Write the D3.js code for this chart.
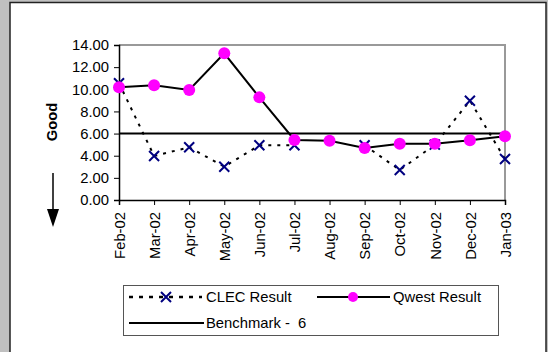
<!DOCTYPE html>
<html><head><meta charset="utf-8">
<script src="https://cdn.jsdelivr.net/npm/d3@7"></script>
<style>
html,body{margin:0;padding:0;background:#c0c0c0;}
svg{display:block;font-family:"Liberation Sans",Arial,sans-serif;}
</style></head>
<body>
<script>
const months = ["Feb-02","Mar-02","Apr-02","May-02","Jun-02","Jul-02","Aug-02","Sep-02","Oct-02","Nov-02","Dec-02","Jan-03"];
const clec = [10.55, 3.98, 4.76, 3.01, 4.94, 4.94, null, 4.94, 2.71, 5.0, 8.97, 3.70];
const qwest = [10.18, 10.36, 9.94, 13.25, 9.27, 5.42, 5.36, 4.70, 5.09, 5.09, 5.39, 5.75];
const benchmark = 6;
const yTicks = [0, 2, 4, 6, 8, 10, 12, 14];
const legendLabels = ["CLEC Result", "Qwest Result", "Benchmark -  6"];

const FS = "14.8px";
const W = 548, H = 352;
const svg = d3.select("body").append("svg").attr("width", W).attr("height", H);
svg.append("rect").attr("x", 0).attr("y", 0).attr("width", W).attr("height", H).attr("fill", "#c0c0c0");
svg.append("rect").attr("x", 10).attr("y", 2.5).attr("width", 536).attr("height", 352).attr("fill", "#fff").attr("stroke", "#222").attr("stroke-width", 1.5);

const L = 119, R = 505, T = 45, B = 200;
const x = d3.scalePoint().domain(months).range([L, R]);
const y = d3.scaleLinear().domain([0, 14]).range([B, T]);

// plot border (top/right gray)
svg.append("path").attr("d", `M${L},${T}H${R}V${B}`).attr("fill", "none").attr("stroke", "#999").attr("stroke-width", 2);

const yAxis = svg.append("g").attr("transform", `translate(${L},0)`)
  .call(d3.axisLeft(y).tickValues(yTicks).tickFormat(d3.format(".2f")).tickSize(5).tickPadding(5));
yAxis.select(".domain").attr("stroke", "#000").attr("stroke-width", 1.5);
yAxis.selectAll(".tick line").attr("stroke", "#000");
yAxis.selectAll("text").attr("font-size", FS).attr("fill", "#000").style("font-family", "Liberation Sans, Arial, sans-serif");

const xAxis = svg.append("g").attr("transform", `translate(0,${B})`)
  .call(d3.axisBottom(x).tickSize(5).tickPadding(3));
xAxis.select(".domain").attr("stroke", "#000").attr("stroke-width", 1.5);
xAxis.selectAll(".tick line").attr("stroke", "#000");
xAxis.selectAll("text").attr("font-size", FS).attr("fill", "#000")
  .style("font-family", "Liberation Sans, Arial, sans-serif")
  .attr("transform", "rotate(-90)").attr("text-anchor", "end")
  .attr("x", -12).attr("y", 0).attr("dy", "0.35em");

// benchmark
svg.append("line").attr("x1", L).attr("x2", R).attr("y1", y(benchmark)).attr("y2", y(benchmark))
  .attr("stroke", "#000").attr("stroke-width", 2);

// CLEC dashed line
const lineC = d3.line().defined(d => d != null).x((d, i) => x(months[i])).y(d => y(d));
svg.append("path").datum(clec).attr("d", lineC).attr("fill", "none").attr("stroke", "#000")
  .attr("stroke-width", 2).attr("stroke-dasharray", "3,6");
// Qwest line
const lineQ = d3.line().x((d, i) => x(months[i])).y(d => y(d));
svg.append("path").datum(qwest).attr("d", lineQ).attr("fill", "none").attr("stroke", "#000").attr("stroke-width", 2);

function xMark(g, cx, cy) {
  const s = 5;
  g.append("path").attr("d", `M${cx-s},${cy-s}L${cx+s},${cy+s}M${cx-s},${cy+s}L${cx+s},${cy-s}`)
    .attr("stroke", "#000080").attr("stroke-width", 2).attr("fill", "none");
}
const gC = svg.append("g");
clec.forEach((d, i) => { if (d != null) xMark(gC, x(months[i]), y(d)); });
svg.append("g").selectAll("circle").data(qwest).join("circle")
  .attr("cx", (d, i) => x(months[i])).attr("cy", d => y(d)).attr("r", 6).attr("fill", "#ff00ff");

// Y label
svg.append("text").attr("transform", "translate(57,122) rotate(-90)").attr("text-anchor", "middle")
  .attr("font-size", FS).attr("font-weight", "bold").text("Good");
// arrow
svg.append("line").attr("x1", 53).attr("x2", 53).attr("y1", 173).attr("y2", 212).attr("stroke", "#000").attr("stroke-width", 1.5);
svg.append("path").attr("d", "M47,209L59,209L53,227Z").attr("fill", "#000");

// legend
const lg = svg.append("g");
lg.append("rect").attr("x", 123.5).attr("y", 285.5).attr("width", 375).attr("height", 50)
  .attr("fill", "#fff").attr("stroke", "#555").attr("stroke-width", 1);
const r1 = 297, r2 = 323;
lg.append("line").attr("x1", 129).attr("x2", 202).attr("y1", r1).attr("y2", r1)
  .attr("stroke", "#000").attr("stroke-width", 2.5).attr("stroke-dasharray", "4,6");
xMark(lg, 166, r1);
lg.append("text").attr("x", 206).attr("y", r1).attr("dy", "0.35em").attr("font-size", FS).text(legendLabels[0]);
lg.append("line").attr("x1", 317).attr("x2", 390).attr("y1", r1).attr("y2", r1).attr("stroke", "#000").attr("stroke-width", 2);
lg.append("circle").attr("cx", 353).attr("cy", r1).attr("r", 5).attr("fill", "#ff00ff");
lg.append("text").attr("x", 393).attr("y", r1).attr("dy", "0.35em").attr("font-size", FS).text(legendLabels[1]);
lg.append("line").attr("x1", 129).attr("x2", 204).attr("y1", r2).attr("y2", r2).attr("stroke", "#000").attr("stroke-width", 2);
lg.append("text").attr("x", 206).attr("y", r2).attr("dy", "0.35em").attr("font-size", FS)
  .style("white-space", "pre").text(legendLabels[2]);
</script>
</body></html>
